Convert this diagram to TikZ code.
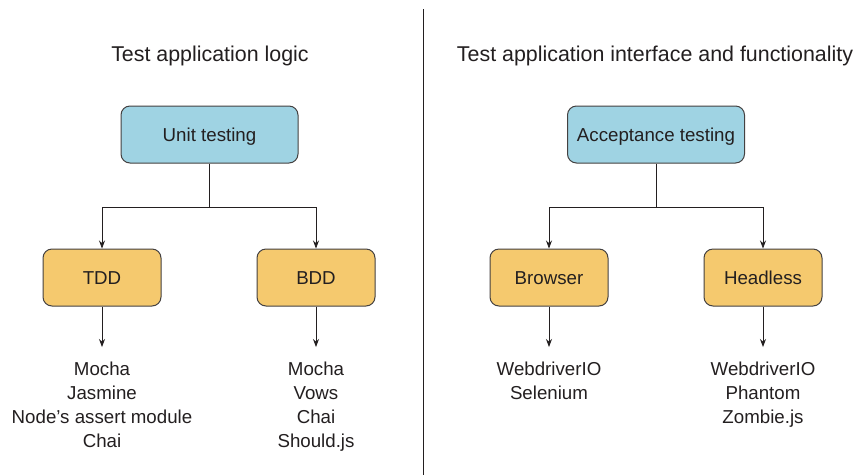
\documentclass[tikz,border=0pt]{standalone}
\usepackage{fontspec}
\setmainfont{Liberation Sans}
\usetikzlibrary{arrows.meta}
\definecolor{bluebox}{HTML}{9FD3E3}
\definecolor{orangebox}{HTML}{F5C96E}
\definecolor{ink}{HTML}{231F20}
\begin{document}
\begin{tikzpicture}[x=1pt,y=-1pt,
  every node/.style={text=ink, font=\fontsize{18.7}{24}\selectfont},
  box/.style={draw=ink!85, line width=1pt, rounded corners=9pt, minimum height=57pt, inner sep=0pt, text height=13.4pt, text depth=0pt},
  bigbox/.style={box, fill=bluebox, minimum width=177pt},
  smallbox/.style={box, fill=orangebox, minimum width=118pt},
  list/.style={align=center, anchor=north, inner sep=0pt},
  title/.style={inner sep=0pt, anchor=base, font=\fontsize{21.4}{26}\selectfont},
  conn/.style={draw=ink, line width=0.8pt},
  arr/.style={conn, -{Stealth[length=8pt,width=6pt]}}]
\useasboundingbox (0,0) rectangle (855,475);
\fill[white] (0,0) rectangle (855,475);
\draw[conn] (423,9) -- (423,475);

\node[title] (t1) at (210,61) {Test application logic};
\node[title] (t2) at (655,61) {Test application interface and functionality};

\node[bigbox] (unit) at (209.5,134.5) {Unit testing};
\node[smallbox] (tdd) at (102,277.5) {TDD};
\node[smallbox] (bdd) at (316,277.5) {BDD};
\coordinate (j1) at (209.5,207);
\draw[conn] (unit.south) -- (j1);
\draw[arr] (j1) -| (tdd.north);
\draw[arr] (j1) -| (bdd.north);

\node[bigbox] (acc) at (656,134.5) {Acceptance testing};
\node[smallbox] (brw) at (549,277.5) {Browser};
\node[smallbox] (hdl) at (763,277.5) {Headless};
\coordinate (j2) at (656,207);
\draw[conn] (acc.south) -- (j2);
\draw[arr] (j2) -| (brw.north);
\draw[arr] (j2) -| (hdl.north);

\coordinate (e1) at (102,347);
\coordinate (e2) at (316,347);
\coordinate (e3) at (549,347);
\coordinate (e4) at (763,347);
\draw[arr] (tdd.south) -- (e1);
\draw[arr] (bdd.south) -- (e2);
\draw[arr] (brw.south) -- (e3);
\draw[arr] (hdl.south) -- (e4);

\node[list] (l1) at (102,362) {Mocha\\Jasmine\\Node’s assert module\\Chai};
\node[list] (l2) at (316,362) {Mocha\\Vows\\Chai\\Should.js};
\node[list] (l3) at (549,362) {WebdriverIO\\Selenium};
\node[list] (l4) at (763,362) {WebdriverIO\\Phantom\\Zombie.js};
\end{tikzpicture}
\end{document}
